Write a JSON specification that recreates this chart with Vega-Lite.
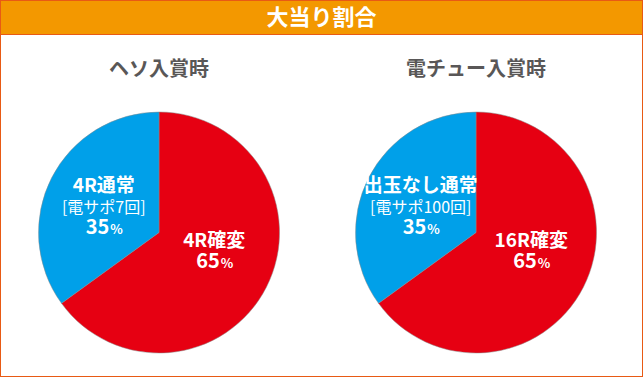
{
  "$schema": "https://vega.github.io/schema/vega-lite/v6.json",
  "background": "#E85A14",
  "padding": 1,
  "spacing": 1,
  "config": {
    "view": {"stroke": null, "fill": "white"},
    "concat": {"spacing": 0},
    "font": "Noto Sans CJK JP",
    "text": {"font": "Noto Sans CJK JP"}
  },
  "datasets": {
    "heso": [
      {"kind": "確変", "value": 65, "line1": "4R確変", "line2": "", "num": "65"},
      {"kind": "通常", "value": 35, "line1": "4R通常", "line2": "[電サポ7回]", "num": "35"}
    ],
    "denchu": [
      {"kind": "確変", "value": 65, "line1": "16R確変", "line2": "", "num": "65"},
      {"kind": "通常", "value": 35, "line1": "出玉なし通常", "line2": "[電サポ100回]", "num": "35"}
    ]
  },
  "vconcat": [
    {
      "width": 641,
      "height": 33,
      "view": {"fill": "#F39800", "stroke": null},
      "data": {"values": [{"title": "大当り割合"}]},
      "mark": {"type": "text", "fontSize": 22, "fontWeight": "bold", "color": "white", "baseline": "middle"},
      "encoding": {"text": {"field": "title", "type": "nominal"}}
    },
    {
      "hconcat": [
        {
          "spacing": 0,
          "vconcat": [
            {
              "width": 316,
              "height": 70,
              "view": {"fill": "white", "stroke": null},
              "data": {"values": [{"name": "ヘソ入賞時"}]},
              "mark": {"type": "text", "fontSize": 20, "fontWeight": "bold", "color": "#595757", "baseline": "middle"},
              "encoding": {"text": {"field": "name", "type": "nominal"}}
            },
            {
              "width": 316,
              "height": 271,
              "view": {"fill": "white", "stroke": null},
              "data": {"name": "heso"},
              "encoding": {
                "theta": {"field": "value", "type": "quantitative", "stack": true},
                "order": {"field": "kind", "type": "ordinal", "sort": "ascending"},
                "detail": {"field": "kind", "type": "nominal"}
              },
              "layer": [
                {
                  "mark": {"type": "arc", "outerRadius": 120.5, "yOffset": -8, "stroke": "#888", "strokeWidth": 0.5},
                  "encoding": {
                    "color": {"field": "kind", "type": "nominal", "scale": {"domain": ["確変", "通常"], "range": ["#E60012", "#00A0E9"]}, "legend": null}
                  }
                },
                {
                  "mark": {"type": "text", "radius": 62, "yOffset": -8, "dy": -18.5, "fontSize": 19, "fontWeight": "bold", "color": "white", "baseline": "middle"},
                  "encoding": {"text": {"condition": {"test": "datum.kind === '通常'", "field": "line1", "type": "nominal"}, "value": ""}}
                },
                {
                  "mark": {"type": "text", "radius": 62, "yOffset": -8, "dy": 3.5, "fontSize": 16, "fontWeight": "normal", "color": "white", "baseline": "middle"},
                  "encoding": {"text": {"field": "line2", "type": "nominal"}}
                },
                {
                  "mark": {"type": "text", "radius": 62, "yOffset": -8, "dy": 30, "dx": 5.5, "align": "right", "fontSize": 20, "fontWeight": "bold", "color": "white", "baseline": "alphabetic"},
                  "encoding": {"text": {"condition": {"test": "datum.kind === '通常'", "field": "num", "type": "nominal"}, "value": ""}}
                },
                {
                  "mark": {"type": "text", "radius": 62, "yOffset": -8, "dy": 30, "dx": 6.5, "align": "left", "fontSize": 13, "fontWeight": "bold", "color": "white", "baseline": "alphabetic"},
                  "encoding": {"text": {"condition": {"test": "datum.kind === '通常'", "value": "%"}, "value": ""}}
                },
                {
                  "mark": {"type": "text", "radius": 62, "yOffset": -8, "dy": -19.5, "fontSize": 19, "fontWeight": "bold", "color": "white", "baseline": "middle"},
                  "encoding": {"text": {"condition": {"test": "datum.kind === '確変'", "field": "line1", "type": "nominal"}, "value": ""}}
                },
                {
                  "mark": {"type": "text", "radius": 62, "yOffset": -8, "dy": 7.7, "dx": 5.5, "align": "right", "fontSize": 20, "fontWeight": "bold", "color": "white", "baseline": "alphabetic"},
                  "encoding": {"text": {"condition": {"test": "datum.kind === '確変'", "field": "num", "type": "nominal"}, "value": ""}}
                },
                {
                  "mark": {"type": "text", "radius": 62, "yOffset": -8, "dy": 7.7, "dx": 6.5, "align": "left", "fontSize": 13, "fontWeight": "bold", "color": "white", "baseline": "alphabetic"},
                  "encoding": {"text": {"condition": {"test": "datum.kind === '確変'", "value": "%"}, "value": ""}}
                }
              ]
            }
          ]
        },
        {
          "spacing": 0,
          "vconcat": [
            {
              "width": 325,
              "height": 70,
              "view": {"fill": "white", "stroke": null},
              "data": {"values": [{"name": "電チュー入賞時"}]},
              "mark": {"type": "text", "fontSize": 20, "fontWeight": "bold", "color": "#595757", "baseline": "middle", "xOffset": -3.5},
              "encoding": {"text": {"field": "name", "type": "nominal"}}
            },
            {
              "width": 325,
              "height": 271,
              "view": {"fill": "white", "stroke": null},
              "data": {"name": "denchu"},
              "encoding": {
                "theta": {"field": "value", "type": "quantitative", "stack": true},
                "order": {"field": "kind", "type": "ordinal", "sort": "ascending"},
                "detail": {"field": "kind", "type": "nominal"}
              },
              "layer": [
                {
                  "mark": {"type": "arc", "outerRadius": 120.5, "xOffset": -3.5, "yOffset": -8, "stroke": "#888", "strokeWidth": 0.5},
                  "encoding": {
                    "color": {"field": "kind", "type": "nominal", "scale": {"domain": ["確変", "通常"], "range": ["#E60012", "#00A0E9"]}, "legend": null}
                  }
                },
                {
                  "mark": {"type": "text", "radius": 62, "xOffset": -3.5, "yOffset": -8, "dy": -18.5, "fontSize": 19, "fontWeight": "bold", "color": "white", "baseline": "middle"},
                  "encoding": {"text": {"condition": {"test": "datum.kind === '通常'", "field": "line1", "type": "nominal"}, "value": ""}}
                },
                {
                  "mark": {"type": "text", "radius": 62, "xOffset": -3.5, "yOffset": -8, "dy": 3.5, "fontSize": 16, "fontWeight": "normal", "color": "white", "baseline": "middle"},
                  "encoding": {"text": {"field": "line2", "type": "nominal"}}
                },
                {
                  "mark": {"type": "text", "radius": 62, "xOffset": -3.5, "yOffset": -8, "dy": 30, "dx": 5.5, "align": "right", "fontSize": 20, "fontWeight": "bold", "color": "white", "baseline": "alphabetic"},
                  "encoding": {"text": {"condition": {"test": "datum.kind === '通常'", "field": "num", "type": "nominal"}, "value": ""}}
                },
                {
                  "mark": {"type": "text", "radius": 62, "xOffset": -3.5, "yOffset": -8, "dy": 30, "dx": 6.5, "align": "left", "fontSize": 13, "fontWeight": "bold", "color": "white", "baseline": "alphabetic"},
                  "encoding": {"text": {"condition": {"test": "datum.kind === '通常'", "value": "%"}, "value": ""}}
                },
                {
                  "mark": {"type": "text", "radius": 62, "xOffset": -3.5, "yOffset": -8, "dy": -19.5, "fontSize": 19, "fontWeight": "bold", "color": "white", "baseline": "middle"},
                  "encoding": {"text": {"condition": {"test": "datum.kind === '確変'", "field": "line1", "type": "nominal"}, "value": ""}}
                },
                {
                  "mark": {"type": "text", "radius": 62, "xOffset": -3.5, "yOffset": -8, "dy": 7.7, "dx": 5.5, "align": "right", "fontSize": 20, "fontWeight": "bold", "color": "white", "baseline": "alphabetic"},
                  "encoding": {"text": {"condition": {"test": "datum.kind === '確変'", "field": "num", "type": "nominal"}, "value": ""}}
                },
                {
                  "mark": {"type": "text", "radius": 62, "xOffset": -3.5, "yOffset": -8, "dy": 7.7, "dx": 6.5, "align": "left", "fontSize": 13, "fontWeight": "bold", "color": "white", "baseline": "alphabetic"},
                  "encoding": {"text": {"condition": {"test": "datum.kind === '確変'", "value": "%"}, "value": ""}}
                }
              ]
            }
          ]
        }
      ]
    }
  ]
}
